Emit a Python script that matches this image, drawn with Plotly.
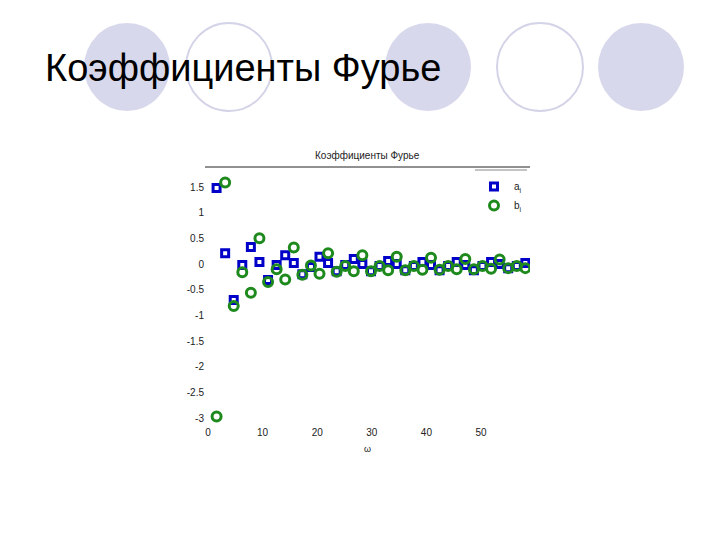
import plotly.graph_objects as go

# Frequencies omega_k (k = 1..37)
omega = [1.57, 3.14, 4.71, 6.28, 7.85, 9.42, 11.0, 12.57, 14.14, 15.71,
         17.28, 18.85, 20.42, 21.99, 23.56, 25.13, 26.7, 28.27, 29.85, 31.42,
         32.99, 34.56, 36.13, 37.7, 39.27, 40.84, 42.41, 43.98, 45.55, 47.12,
         48.69, 50.27, 51.84, 53.41, 54.98, 56.55, 58.12]

a_vals = [1.48, 0.21, -0.70, -0.02, 0.33, 0.04, -0.31, -0.02, 0.17, 0.02,
          -0.20, -0.06, 0.14, 0.02, -0.14, -0.02, 0.10, 0.00, -0.14, -0.04,
          0.06, 0.00, -0.12, -0.04, 0.04, -0.02, -0.12, -0.04, 0.04, -0.02,
          -0.12, -0.04, 0.04, 0.00, -0.08, -0.04, 0.02]

b_vals = [-2.97, 1.59, -0.82, -0.16, -0.56, 0.50, -0.35, -0.10, -0.30, 0.32,
          -0.21, -0.03, -0.19, 0.21, -0.15, -0.04, -0.14, 0.17, -0.14, -0.04,
          -0.12, 0.14, -0.12, -0.04, -0.11, 0.12, -0.11, -0.04, -0.10, 0.10,
          -0.10, -0.04, -0.09, 0.09, -0.08, -0.04, -0.08]

x_ticks = [0, 10, 20, 30, 40, 50]
y_ticks = [1.5, 1, 0.5, 0, -0.5, -1, -1.5, -2, -2.5, -3]
y_tick_text = ["1.5", "1", "0.5", "0", "-0.5", "-1", "-1.5", "-2", "-2.5", "-3"]

slide_title = "Коэффициенты Фурье"
chart_title = "Коэффициенты Фурье"

W, H = 720, 540
def px(x):
    return x / W
def py(y):
    return (H - y) / H

fig = go.Figure()
fig.add_trace(go.Scatter(
    x=omega, y=a_vals, mode="markers", name="a<sub>i</sub>", legendgroup="a",
    marker=dict(symbol="square-open", size=7, color="#0000c8",
                line=dict(width=3, color="#0000c8"))))
fig.add_trace(go.Scatter(
    x=omega, y=b_vals, mode="markers", name="b<sub>i</sub>", legendgroup="b",
    marker=dict(symbol="circle-open", size=9, color="#1e8a1e",
                line=dict(width=3, color="#1e8a1e"))))

shapes = []
# decorative circles
circ_fill = "#d8d8ec"
circ_line = "#d4d4e8"
for cx, filled in [(127, True), (229, False), (428, True), (540, False), (641, True)]:
    r = 43
    shapes.append(dict(type="circle", xref="paper", yref="paper",
                       x0=px(cx - r), x1=px(cx + r), y0=py(67 + 44), y1=py(67 - 44),
                       fillcolor=circ_fill if filled else "rgba(0,0,0,0)",
                       line=dict(color=circ_line, width=0 if filled else 2),
                       layer="below"))
# separator line under chart title
shapes.append(dict(type="line", xref="paper", yref="paper",
                   x0=px(205), x1=px(530), y0=py(167), y1=py(167),
                   line=dict(color="#222222", width=1)))
# legend top line
shapes.append(dict(type="line", xref="paper", yref="paper",
                   x0=px(475), x1=px(527), y0=py(170), y1=py(170),
                   line=dict(color="#888888", width=1)))

fig.update_layout(
    width=W, height=H,
    margin=dict(l=0, r=0, t=0, b=0),
    paper_bgcolor="white", plot_bgcolor="white",
    font=dict(family="Liberation Sans, Arial, sans-serif", size=10, color="#222222"),
    shapes=shapes,
    showlegend=True,
    legend=dict(x=px(474), y=py(172), xanchor="left", yanchor="top",
                bgcolor="rgba(0,0,0,0)", font=dict(size=10),
                tracegroupgap=0, itemwidth=30),
    xaxis=dict(domain=[px(205), px(530)], range=[-0.55, 58.97],
               showgrid=False, zeroline=False, showline=False,
               tickvals=x_ticks, ticks="", tickfont=dict(size=10),
               title=dict(text="ω", font=dict(size=9), standoff=8)),
    yaxis=dict(domain=[py(425), py(167)], range=[-3.136, 1.89],
               showgrid=False, zeroline=False, showline=False,
               tickvals=y_ticks, ticktext=y_tick_text, ticks="",
               tickfont=dict(size=10)),
    annotations=[
        dict(text=slide_title, xref="paper", yref="paper", x=px(43), y=py(68),
             xanchor="left", yanchor="middle", showarrow=False,
             font=dict(size=38, color="black", family="Liberation Sans, Arial, sans-serif")),
        dict(text=chart_title, xref="paper", yref="paper", x=px(367), y=py(156),
             xanchor="center", yanchor="middle", showarrow=False,
             font=dict(size=10, color="#222222")),
    ],
)

fig.write_html("out.html", config=dict(displayModeBar=False),
               post_script="document.body.style.margin='0';")
